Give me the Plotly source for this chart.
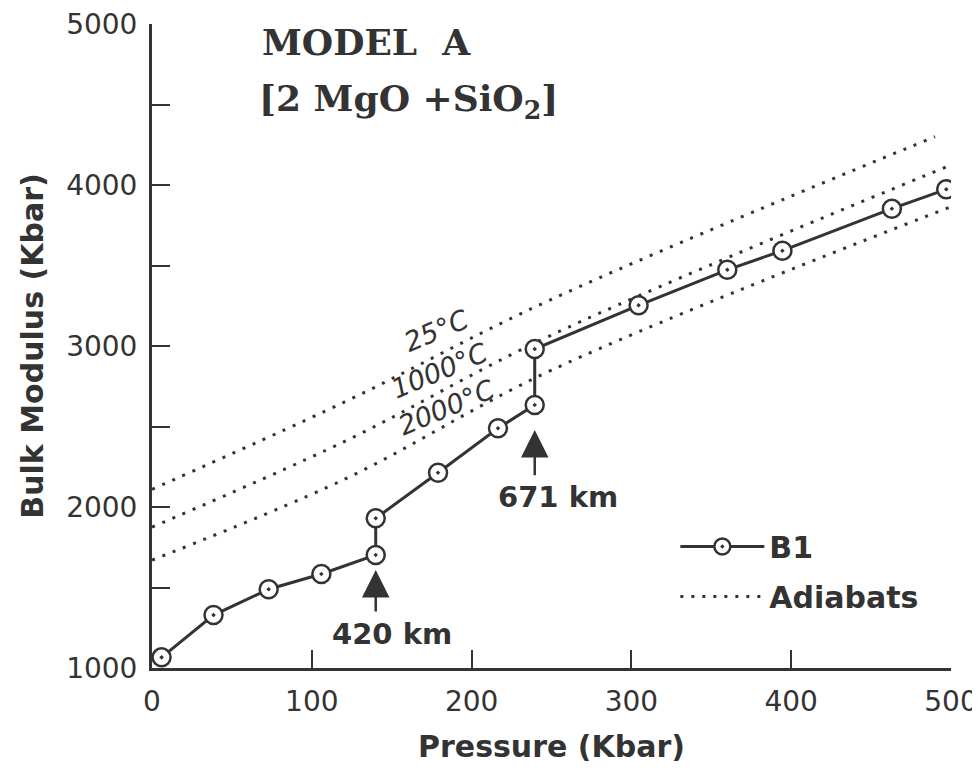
import plotly.graph_objects as go

# B1 model data (pressure kbar, bulk modulus kbar)
b1_pressure = [6, 38.5, 73, 106, 140, 140, 179, 216.5, 239.5, 239.5, 304.5, 360, 394.5, 463, 497]
b1_modulus = [1066, 1329, 1489, 1584, 1702, 1930, 2213, 2489, 2634, 2981, 3253, 3473, 3592, 3853, 3973]

# Adiabats
adiabat_pressure_25 = [0, 120, 250, 490]
adiabat_modulus_25 = [2110, 2650, 3290, 4300]
adiabat_pressure_1000 = [0, 120, 250, 499]
adiabat_modulus_1000 = [1875, 2405, 3068, 4120]
adiabat_pressure_2000 = [0, 120, 250, 500]
adiabat_modulus_2000 = [1670, 2170, 2850, 3865]

adiabat_labels = ["25°C", "1000°C", "2000°C"]
adiabat_label_pos = [(178, 3095), (180, 2845), (184, 2615)]

depth_labels = ["420 km", "671 km"]
depth_pressure = [140, 239.5]

x_ticks = [0, 100, 200, 300, 400, 500]
y_ticks = [1000, 2000, 3000, 4000, 5000]

INK = "#333333"
FONT = "DejaVu Sans"

fig = go.Figure()

adiabat_sets = [
    (adiabat_pressure_25, adiabat_modulus_25),
    (adiabat_pressure_1000, adiabat_modulus_1000),
    (adiabat_pressure_2000, adiabat_modulus_2000),
]
for i, (px, py) in enumerate(adiabat_sets):
    fig.add_trace(go.Scatter(
        x=px, y=py, mode="lines",
        line=dict(color=INK, width=3, dash="3px,8px", shape="spline"),
        name="Adiabats", showlegend=(i == 0), legendgroup="adiabats",
        legendrank=2,
    ))

fig.add_trace(go.Scatter(
    x=b1_pressure, y=b1_modulus, mode="lines+markers",
    line=dict(color=INK, width=3),
    marker=dict(symbol="circle-dot", size=18, color="white", line=dict(width=2.5, color=INK)),
    name="B1", legendgroup="b1", legendrank=1,
))

annotations = []
for lab, (ax_, ay_) in zip(adiabat_labels, adiabat_label_pos):
    annotations.append(dict(
        x=ax_, y=ay_, xref="x", yref="y", text="<i>" + lab + "</i>",
        showarrow=False, textangle=-23,
        font=dict(family=FONT, size=27, color=INK),
    ))

# depth arrows
arrow_tips = [1609, 2478]
arrow_tails = [1342, 2188]
label_pos = [(150, 1212), (254, 2060)]
for lab, p, tip, tail, (lx, ly) in zip(depth_labels, depth_pressure, arrow_tips, arrow_tails, label_pos):
    annotations.append(dict(
        x=p, y=tip, ax=p, ay=tail, xref="x", yref="y", axref="x", ayref="y",
        text="", showarrow=True, arrowhead=2, arrowsize=2.2, arrowwidth=2.5, arrowcolor=INK,
    ))
    annotations.append(dict(
        x=lx, y=ly, xref="x", yref="y", text="<b>" + lab + "</b>", showarrow=False,
        font=dict(family=FONT, size=29, color=INK),
    ))

annotations.append(dict(
    x=0.269, y=0.972, xref="paper", yref="paper", text="<b>MODEL  A</b>",
    xanchor="center", yanchor="middle",
    showarrow=False, font=dict(family="DejaVu Serif", size=36, color=INK),
))
annotations.append(dict(
    x=0.321, y=0.88, xref="paper", yref="paper",
    text="<b>[2 MgO +SiO<sub>2</sub>]</b>",
    xanchor="center", yanchor="middle",
    showarrow=False, font=dict(family="DejaVu Serif", size=36, color=INK),
))

fig.update_layout(
    width=972, height=756,
    margin=dict(l=144, r=29, t=16, b=96),
    paper_bgcolor="white", plot_bgcolor="white",
    font=dict(family=FONT, color=INK, size=25),
    annotations=annotations,
    showlegend=True,
    legend=dict(
        x=0.655, y=0.229, xanchor="left", yanchor="top",
        traceorder="grouped", tracegroupgap=8, itemwidth=84,
        font=dict(family=FONT, size=30, color=INK, weight="bold"),
        bgcolor="rgba(0,0,0,0)",
    ),
    xaxis=dict(
        range=[0, 500], tickvals=x_ticks, ticks="inside", ticklen=18, tickwidth=2,
        tickcolor=INK, showline=True, linewidth=3, linecolor=INK, showgrid=False,
        zeroline=False, tickfont=dict(size=28, family=FONT), automargin=False,
        ticklabelstandoff=6, ticklabeloverflow="allow",
        title=dict(text="<b>Pressure (Kbar)</b>", font=dict(size=30, family=FONT), standoff=24),
    ),
    yaxis=dict(
        range=[1000, 5000], tickvals=y_ticks, ticks="inside", ticklen=18, tickwidth=2,
        tickcolor=INK, showline=True, linewidth=3, linecolor=INK, showgrid=False,
        zeroline=False, tickfont=dict(size=28, family=FONT), automargin=False,
        ticklabelstandoff=6, ticklabeloverflow="allow",
        minor=dict(dtick=500, ticks="inside", ticklen=18, tickwidth=2, tickcolor=INK, showgrid=False),
        title=dict(text="<b>Bulk Modulus (Kbar)</b>", font=dict(size=30, family=FONT), standoff=14),
    ),
)

fig.write_html("out.html")
